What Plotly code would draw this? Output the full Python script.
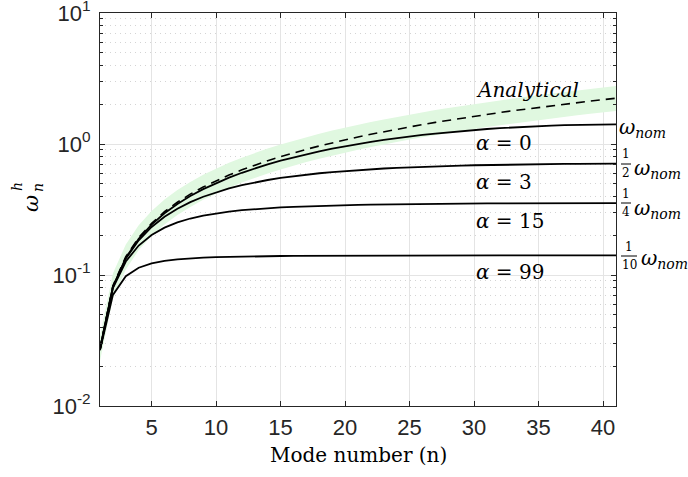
import plotly.graph_objects as go

# ---------------- data ----------------
n = list(range(1, 42))

analytical = [0.0276, 0.0828, 0.138, 0.193, 0.248, 0.304, 0.359, 0.414, 0.469, 0.524,
              0.580, 0.635, 0.690, 0.745, 0.800, 0.856, 0.911, 0.966, 1.021, 1.076,
              1.132, 1.187, 1.242, 1.297, 1.352, 1.408, 1.463, 1.518, 1.573, 1.628,
              1.684, 1.739, 1.794, 1.849, 1.904, 1.960, 2.015, 2.070, 2.125, 2.180, 2.236]

band_hi = [0.0342, 0.1027, 0.171, 0.240, 0.308, 0.377, 0.445, 0.513, 0.582, 0.650,
           0.719, 0.787, 0.856, 0.924, 0.993, 1.061, 1.129, 1.198, 1.266, 1.335,
           1.403, 1.472, 1.540, 1.609, 1.677, 1.745, 1.814, 1.882, 1.951, 2.019,
           2.088, 2.156, 2.225, 2.293, 2.362, 2.430, 2.498, 2.567, 2.635, 2.704, 2.772]

band_lo = [0.0221, 0.0662, 0.110, 0.155, 0.199, 0.243, 0.287, 0.331, 0.375, 0.420,
           0.464, 0.508, 0.552, 0.596, 0.640, 0.685, 0.729, 0.773, 0.817, 0.861,
           0.905, 0.949, 0.994, 1.038, 1.082, 1.126, 1.170, 1.214, 1.259, 1.303,
           1.347, 1.391, 1.435, 1.479, 1.524, 1.568, 1.612, 1.656, 1.700, 1.744, 1.789]

alpha0 = [0.0271, 0.0812, 0.1352, 0.1891, 0.2426, 0.2958, 0.3486, 0.4008, 0.4524, 0.5034,
          0.5537, 0.6031, 0.6517, 0.6993, 0.7459, 0.7913, 0.8356, 0.8787, 0.9205, 0.9610,
          1.0000, 1.0376, 1.0736, 1.1081, 1.1409, 1.1721, 1.2016, 1.2292, 1.2551, 1.2792,
          1.3013, 1.3216, 1.3399, 1.3562, 1.3706, 1.3829, 1.3932, 1.4015, 1.4077, 1.4119, 1.4140]

alpha3 = [0.0271, 0.0808, 0.1334, 0.1842, 0.2326, 0.2781, 0.3206, 0.3598, 0.3957, 0.4285,
          0.4583, 0.4851, 0.5094, 0.5311, 0.5507, 0.5682, 0.5840, 0.5981, 0.6108, 0.6223,
          0.6325, 0.6417, 0.6499, 0.6573, 0.6640, 0.6700, 0.6754, 0.6801, 0.6844, 0.6883,
          0.6916, 0.6946, 0.6973, 0.6995, 0.7015, 0.7031, 0.7044, 0.7055, 0.7063, 0.7068, 0.7071]

alpha15 = [0.0270, 0.0793, 0.1268, 0.1679, 0.2021, 0.2299, 0.2522, 0.2699, 0.2841, 0.2956,
           0.3048, 0.3124, 0.3186, 0.3237, 0.3280, 0.3316, 0.3346, 0.3372, 0.3394, 0.3414,
           0.3430, 0.3445, 0.3457, 0.3468, 0.3478, 0.3486, 0.3494, 0.3500, 0.3506, 0.3511,
           0.3516, 0.3520, 0.3523, 0.3526, 0.3528, 0.3530, 0.3532, 0.3534, 0.3534, 0.3535, 0.3536]

alpha99 = [0.0266, 0.0705, 0.0979, 0.1136, 0.1226, 0.1281, 0.1316, 0.1340, 0.1356, 0.1368,
           0.1377, 0.1383, 0.1389, 0.1393, 0.1396, 0.1399, 0.1401, 0.1403, 0.1405, 0.1406,
           0.1407, 0.1408, 0.1409, 0.1410, 0.1410, 0.1411, 0.1412, 0.1412, 0.1412, 0.1413,
           0.1413, 0.1413, 0.1413, 0.1414, 0.1414, 0.1414, 0.1414, 0.1414, 0.1414, 0.1414, 0.1414]

x_ticks = [5, 10, 15, 20, 25, 30, 35, 40]
y_ticks = [0.01, 0.1, 1, 10]
y_ticktext = ["10<sup>-2</sup>", "10<sup>-1</sup>", "10<sup>0</sup>", "10<sup>1</sup>"]
y_minor = [m * 10.0 ** k for k in (-2, -1, 0) for m in range(2, 10)]

# ---------------- figure ----------------
SERIF = "DejaVu Serif"
SANS = "Liberation Sans"
INK = "#262626"

fig = go.Figure()

fig.add_trace(go.Scatter(x=n, y=band_hi, mode="lines", line=dict(width=0),
                         showlegend=False, hoverinfo="skip"))
fig.add_trace(go.Scatter(x=n, y=band_lo, mode="lines", line=dict(width=0),
                         fill="tonexty", fillcolor="rgb(224,248,224)",
                         showlegend=False, hoverinfo="skip"))

for ys in (alpha0, alpha3, alpha15, alpha99):
    fig.add_trace(go.Scatter(x=n, y=ys, mode="lines",
                             line=dict(color="black", width=1.8), showlegend=False))

fig.add_trace(go.Scatter(x=n, y=analytical, mode="lines",
                         line=dict(color="black", width=1.6, dash="9px,6px"),
                         showlegend=False))

fig.update_layout(
    width=688, height=477,
    margin=dict(l=100, r=72, t=13, b=71, autoexpand=False),
    paper_bgcolor="white", plot_bgcolor="white",
    font=dict(family=SANS, size=22, color=INK),
)

fig.update_xaxes(
    range=[1, 41], tickmode="array", tickvals=x_ticks,
    ticks="inside", ticklen=5, tickcolor=INK, tickwidth=1,
    showline=True, linecolor=INK, linewidth=1, mirror="allticks",
    showgrid=True, gridcolor="#e4e4e4", gridwidth=1,
    zeroline=False, tickfont=dict(family=SANS, size=22, color=INK),
    ticklabelstandoff=2, ticklabeloverflow="allow", automargin=False,
)

fig.update_yaxes(
    type="log", range=[-2, 1], tickmode="array", tickvals=y_ticks, ticktext=y_ticktext,
    ticks="inside", ticklen=5, tickcolor=INK, tickwidth=1,
    showline=True, linecolor=INK, linewidth=1, mirror="allticks",
    showgrid=True, gridcolor="#e4e4e4", gridwidth=1,
    zeroline=False, tickfont=dict(family=SANS, size=22, color=INK),
    ticklabelstandoff=4, ticklabeloverflow="allow", automargin=False,
    minor=dict(tickmode="array", tickvals=y_minor, ticks="inside", ticklen=3,
               tickcolor=INK, showgrid=True, gridcolor="#d4d4d4", griddash="1px,4px",
               gridwidth=1),
)

def px2paper(px, py):
    return (px - 100) / 516.0, (406 - py) / 393.0

ann = []

def add_text(txt, px, py, size=20, xanchor="left", yanchor="middle", angle=0):
    xp, yp = px2paper(px, py)
    ann.append(dict(text=txt, x=xp, y=yp, xref="paper", yref="paper",
                    xanchor=xanchor, yanchor=yanchor, showarrow=False,
                    textangle=angle, font=dict(family=SERIF, size=size, color="black")))

# inside labels
add_text("<i>Analytical</i>", 474, 90)
add_text("<i>α</i> = 0", 474, 143)
add_text("<i>α</i> = 3", 474, 182)
add_text("<i>α</i> = 15", 474, 221)
add_text("<i>α</i> = 99", 474, 272)

# right side labels
add_text("<i>ω<sub>nom</sub></i>", 617, 128)
add_text("1", 626, 154, size=12, xanchor="center")
add_text("2", 626, 173, size=12, xanchor="center")
add_text("<i>ω<sub>nom</sub></i>", 632, 169)
add_text("1", 626, 194, size=12, xanchor="center")
add_text("4", 626, 212, size=12, xanchor="center")
add_text("<i>ω<sub>nom</sub></i>", 632, 209)
add_text("1", 629, 247, size=12, xanchor="center")
add_text("10", 629, 265, size=12, xanchor="center")
add_text("<i>ω<sub>nom</sub></i>", 639, 259)

# axis titles
add_text("Mode number (n)", 358, 455, size=20, xanchor="center")
add_text("<i>ω</i>", 31, 204, size=21, xanchor="center", angle=-90)
add_text("<i>h</i>", 17, 187, size=14, xanchor="center", angle=-90)
add_text("<i>n</i>", 38, 188, size=14, xanchor="center", angle=-90)

fig.update_layout(annotations=ann)

# fraction bars
shapes = []
for (x0, x1, py) in ((621, 631, 164), (621, 631, 203), (621, 637, 256)):
    a0, b0 = px2paper(x0, py)
    a1, _ = px2paper(x1, py)
    shapes.append(dict(type="line", xref="paper", yref="paper", x0=a0, x1=a1, y0=b0, y1=b0,
                       line=dict(color="black", width=1)))
fig.update_layout(shapes=shapes)

fig.write_html("out.html")
